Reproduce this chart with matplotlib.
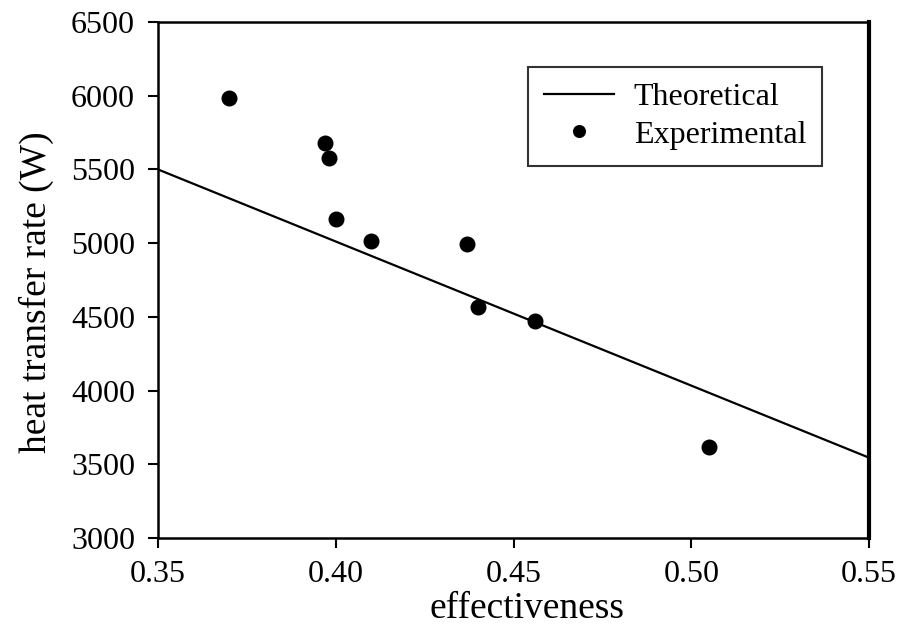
import matplotlib
matplotlib.use("Agg")
import matplotlib.pyplot as plt

# Data
theory_x = [0.35, 0.55]
theory_y = [5500, 3545]
exp_x = [0.370, 0.397, 0.398, 0.400, 0.410, 0.437, 0.440, 0.456, 0.505]
exp_y = [5986, 5682, 5576, 5166, 5018, 4996, 4565, 4475, 3614]
xticks = [0.35, 0.40, 0.45, 0.50, 0.55]
xticklabels = ["0.35", "0.40", "0.45", "0.50", "0.55"]
yticks = [3000, 3500, 4000, 4500, 5000, 5500, 6000, 6500]

plt.rcParams['font.family'] = ['Liberation Serif', 'DejaVu Serif']

fig = plt.figure(figsize=(9, 6.37), dpi=100)
ax = fig.add_axes([0.1756, 0.1554, 0.79, 0.81])

ax.plot(theory_x, theory_y, color='black', lw=1.6, label='Theoretical')
ax.plot(exp_x, exp_y, 'o', color='black', ms=10.5, label='Experimental')

ax.set_xlim(0.35, 0.55)
ax.set_ylim(3000, 6500)
ax.set_xticks(xticks)
ax.set_xticklabels(xticklabels)
ax.set_yticks(yticks)
ax.tick_params(direction='out', length=7.5, width=1.5, labelsize=23)
ax.tick_params(axis='y', pad=9)
ax.tick_params(axis='x', pad=8)
for s in ax.spines.values():
    s.set_linewidth(1.8)
ax.spines['right'].set_linewidth(3)

ax.set_xlabel('effectiveness', fontsize=27, labelpad=2, x=0.519)
ax.set_ylabel('heat transfer rate (W)', fontsize=27, labelpad=12, y=0.477)

leg = ax.legend(loc='upper right', bbox_to_anchor=(0.934, 0.913), fontsize=23,
                frameon=True, fancybox=False, edgecolor='black',
                borderpad=0.5, borderaxespad=0, handlelength=2.2,
                handletextpad=0.6, markerscale=0.8, labelspacing=0.25)
leg.get_frame().set_linewidth(1.5)

fig.savefig('out.png', dpi=100)
